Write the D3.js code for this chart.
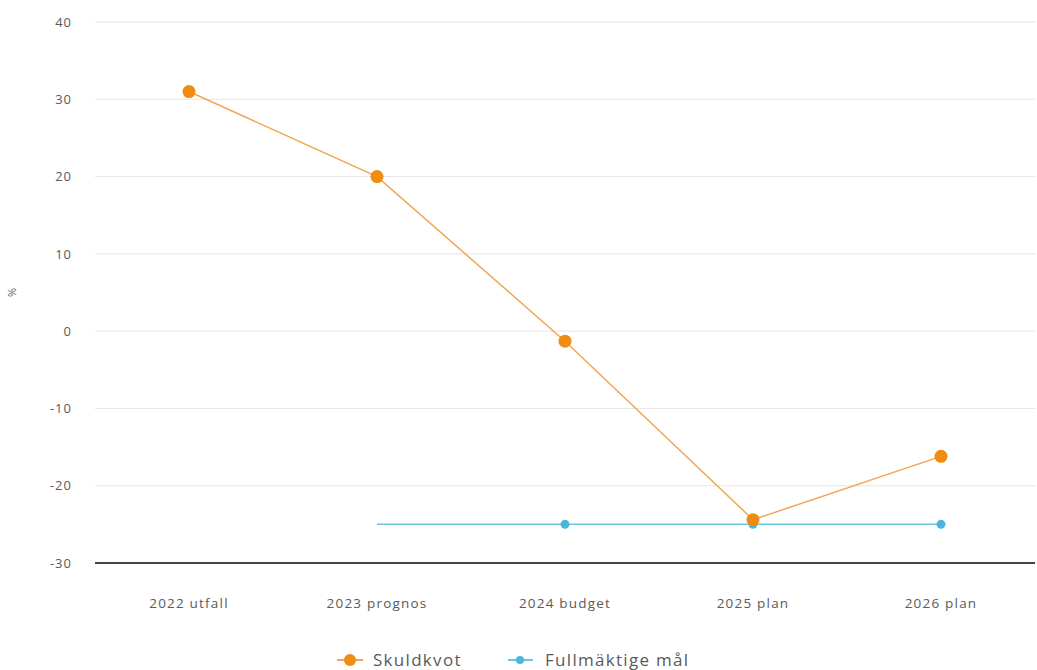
<!DOCTYPE html>
<html><head><meta charset="utf-8">
<script src="https://cdn.jsdelivr.net/npm/d3@7"></script>
<style>body{margin:0;background:#fff;font-family:"Open Sans",sans-serif;}</style>
</head><body><svg id="c" width="1037" height="670"></svg>
<script>
const categories = ["2022 utfall","2023 prognos","2024 budget","2025 plan","2026 plan"];
const skuldkvot = [31.0, 20.0, -1.3, -24.4, -16.2];
const mal = [null, -25, -25, -25, -25];
const yTicks = [-30,-20,-10,0,10,20,30,40];
const seriesNames = ["Skuldkvot","Fullmäktige mål"];

const svg = d3.select("#c");
const m = {l:95, r:2, t:22, b:107};
const W = 1037, H = 670;
const x = d3.scaleBand().domain(categories).range([m.l, W-m.r]);
const y = d3.scaleLinear().domain([-30,40]).range([H-m.b, m.t]);
const cx = d => x(d) + x.bandwidth()/2;
const txt = "#5a5a5a";

// grid
svg.append("g").selectAll("line").data(yTicks.filter(t=>t!==-30)).join("line")
  .attr("x1", m.l).attr("x2", W-m.r)
  .attr("y1", d=>y(d)).attr("y2", d=>y(d))
  .attr("stroke","#e6e6e6").attr("stroke-width",1);

// y axis labels
const ya = svg.append("g").attr("transform",`translate(72,0)`)
  .call(d3.axisLeft(y).tickValues(yTicks).tickFormat(d=>String(d)).tickSize(0).tickPadding(0));
ya.select(".domain").remove();
ya.selectAll("text").attr("font-family","Open Sans, sans-serif").attr("font-size",13)
  .attr("letter-spacing",1).style("fill",txt);

// baseline
svg.append("line").attr("x1",m.l).attr("x2",W-m.r)
  .attr("y1",y(-30)).attr("y2",y(-30)).attr("stroke","#444").attr("stroke-width",2);

// x axis
const xa = svg.append("g").attr("transform",`translate(0,${y(-30)+40})`)
  .call(d3.axisBottom(x).tickSize(0).tickPadding(0));
xa.select(".domain").remove();
xa.selectAll("text").attr("font-family","Open Sans, sans-serif").attr("font-size",13.5)
  .attr("letter-spacing",1.2).style("fill",txt).attr("dy","0.35em");

// y label
svg.append("text").attr("transform",`translate(16,${(y(10)+y(0))/2}) rotate(-90)`)
  .attr("text-anchor","middle").attr("font-size",11).style("fill",txt).text("%");

// mål line
const line = d3.line().defined(d=>d.v!==null).x(d=>cx(d.c)).y(d=>y(d.v));
const malData = categories.map((c,i)=>({c, v:mal[i], i}));
svg.append("path").datum(malData).attr("d",line).attr("fill","none")
  .attr("stroke","#6cc6e3").attr("stroke-width",1.5);
svg.append("g").selectAll("circle").data(malData.filter(d=>d.v!==null && d.i>1)).join("circle")
  .attr("cx",d=>cx(d.c)).attr("cy",d=>y(d.v)).attr("r",4.5).attr("fill","#4db6dc");

// skuldkvot
const skData = categories.map((c,i)=>({c, v:skuldkvot[i]}));
svg.append("path").datum(skData).attr("d",line).attr("fill","none")
  .attr("stroke","#f2a654").attr("stroke-width",1.5);
svg.append("g").selectAll("circle").data(skData).join("circle")
  .attr("cx",d=>cx(d.c)).attr("cy",d=>y(d.v)).attr("r",6.5).attr("fill","#f08c12");

// legend
const lg = svg.append("g").attr("transform","translate(0,660)");
lg.append("line").attr("x1",337).attr("x2",363).attr("y1",0).attr("y2",0).attr("stroke","#f2a654").attr("stroke-width",2);
lg.append("circle").attr("cx",350).attr("cy",0).attr("r",6).attr("fill","#f08c12");
lg.append("text").attr("x",373).attr("y",0).attr("dy","0.35em").attr("font-size",17).attr("letter-spacing",1.3).style("fill",txt).text(seriesNames[0]);
lg.append("line").attr("x1",508).attr("x2",533).attr("y1",0).attr("y2",0).attr("stroke","#6cc6e3").attr("stroke-width",2);
lg.append("circle").attr("cx",520).attr("cy",0).attr("r",4).attr("fill","#4db6dc");
lg.append("text").attr("x",545).attr("y",0).attr("dy","0.35em").attr("font-size",17).attr("letter-spacing",1.3).style("fill",txt).text(seriesNames[1]);
</script></body></html>
